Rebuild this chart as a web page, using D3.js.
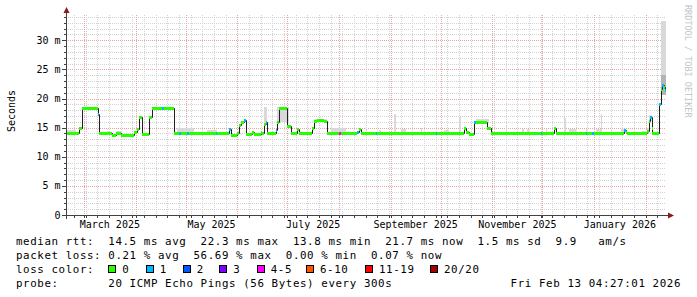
<!DOCTYPE html>
<html>
<head>
<meta charset="utf-8">
<script src="https://cdn.jsdelivr.net/npm/d3@7"></script>
<style>
body { margin: 0; background: #fff; }
svg { display: block; }
text { font-family: "DejaVu Sans Mono", monospace; white-space: pre; }
</style>
</head>
<body>
<div id="chart"></div>
<script>
// median rtt in ms, stepped: each value holds until the next date
var medianDates = ['2025-02-18T04', '2025-02-26', '2025-02-27T12', '2025-03-09T12', '2025-03-10', '2025-03-18', '2025-03-20', '2025-03-23',
    '2025-03-31', '2025-04-02', '2025-04-03', '2025-04-05', '2025-04-09', '2025-04-11', '2025-04-17', '2025-04-18',
    '2025-04-24', '2025-04-27', '2025-04-28', '2025-05-02', '2025-05-03', '2025-05-19', '2025-05-20', '2025-05-27',
    '2025-05-28', '2025-06-01', '2025-06-02', '2025-06-03', '2025-06-05', '2025-06-06', '2025-06-10', '2025-06-11',
    '2025-06-15', '2025-06-16', '2025-06-17', '2025-06-18', '2025-06-19', '2025-06-24', '2025-06-25', '2025-06-26',
    '2025-07-01', '2025-07-03', '2025-07-07', '2025-07-08', '2025-07-16', '2025-07-17', '2025-07-19', '2025-07-23',
    '2025-07-25', '2025-08-01', '2025-08-02', '2025-08-12', '2025-08-13', '2025-08-14', '2025-08-23', '2025-08-24',
    '2025-09-28', '2025-09-29', '2025-10-15', '2025-10-16', '2025-10-18', '2025-10-21', '2025-10-22', '2025-10-29',
    '2025-10-31', '2025-11-30', '2025-12-01', '2025-12-08', '2025-12-09', '2025-12-27', '2025-12-28', '2025-12-31',
    '2026-01-01', '2026-01-19', '2026-01-20', '2026-01-21', '2026-02-02', '2026-02-03', '2026-02-03T18', '2026-02-04T12',
    '2026-02-05', '2026-02-09', '2026-02-10', '2026-02-11', '2026-02-12', '2026-02-12T18'];
var medianValues = [14.0, 15.0, 18.3, 17.4, 14.0, 13.8, 14.0, 13.8,
    14.2, 14.8, 16.9, 13.9, 16.9, 18.3, 18.3, 18.3,
    14.0, 14.0, 14.0, 14.0, 14.0, 14.0, 14.0, 14.8,
    13.8, 14.0, 15.5, 16.0, 16.4, 13.9, 14.3, 13.9,
    14.3, 14.0, 15.7, 15.9, 14.0, 14.6, 15.9, 18.3,
    15.2, 14.0, 14.7, 14.0, 15.0, 16.1, 16.3, 16.2,
    14.0, 14.0, 14.0, 14.2, 14.8, 14.0, 14.0, 14.0,
    14.0, 14.0, 15.0, 14.2, 13.9, 16.0, 16.0, 15.0,
    14.0, 14.0, 14.0, 14.9, 14.0, 14.0, 14.0, 14.0,
    14.0, 14.6, 14.3, 14.0, 14.5, 16.1, 16.9, 14.9,
    14.0, 19.0, 21.7, 22.3, 21.9, 21.5];
// loss class index (0 = no loss, 1 = 1/20, 4 = 4-5/20 ...)
var medianLoss = [0, 0, 0, 1, 0, 0, 0, 0,
    0, 0, 0, 0, 0, 0, 1, 0,
    0, 1, 0, 1, 0, 1, 0, 1,
    0, 0, 0, 0, 1, 0, 0, 0,
    0, 0, 0, 1, 0, 1, 0, 0,
    0, 0, 0, 0, 0, 0, 0, 0,
    0, 4, 0, 1, 0, 0, 1, 0,
    1, 0, 0, 0, 0, 1, 0, 0,
    0, 1, 0, 0, 0, 1, 0, 1,
    0, 1, 0, 0, 0, 0, 1, 0,
    0, 1, 0, 1, 0, 1];

// upper edge of the smoke (spread of the 20 pings), 0 = none
var smokeDates = ['2025-02-19', '2025-02-24', '2025-03-15', '2025-03-16', '2025-03-20', '2025-03-24', '2025-04-26', '2025-05-06',
    '2025-05-14', '2025-05-20', '2025-05-28', '2025-05-29', '2025-06-01', '2025-06-02', '2025-06-17', '2025-06-19',
    '2025-06-25', '2025-07-02', '2025-07-17', '2025-07-25', '2025-07-27', '2025-08-05', '2025-08-17', '2025-08-18',
    '2025-08-25', '2025-08-26', '2025-09-03', '2025-09-04', '2025-09-07', '2025-09-10', '2025-09-19', '2025-09-20',
    '2025-10-03', '2025-10-06', '2025-10-12', '2025-10-13', '2025-10-22', '2025-10-30', '2025-10-31', '2025-11-01',
    '2025-11-09', '2025-11-10', '2025-11-19', '2025-11-20', '2025-11-22', '2025-11-23', '2025-12-03', '2025-12-04',
    '2025-12-14', '2025-12-15', '2025-12-17', '2025-12-21', '2025-12-27', '2025-12-28', '2026-01-02', '2026-01-05',
    '2026-01-06', '2026-01-11', '2026-01-12', '2026-01-17', '2026-01-20', '2026-01-30', '2026-02-02', '2026-02-03',
    '2026-02-05', '2026-02-10'];
var smokeTops = [14.6, 0, 14.5, 0, 14.4, 0, 14.9, 0,
    14.6, 0, 14.9, 0, 14.5, 0, 18.6, 0,
    18.5, 0, 16.5, 0, 14.9, 0, 14.9, 0,
    14.6, 0, 17.4, 0, 14.7, 0, 15.0, 0,
    14.6, 0, 16.9, 0, 16.5, 0, 15.0, 0,
    15.3, 0, 14.8, 0, 14.7, 0, 14.8, 0,
    16.6, 0, 14.7, 0, 14.8, 0, 14.8, 17.3,
    0, 14.7, 0, 14.8, 0, 14.5, 15.0, 17.2,
    0, 33.3];
// denser core of the smoke during the last days
var coreDates = ['2026-02-10'];
var coreLow = [20.6];
var coreHigh = [24.0];

var yTicks = [0, 5, 10, 15, 20, 25, 30];
var lossLabels = ['0', '1', '2', '3', '4-5', '6-10', '11-19', '20/20'];
var rttStats = ['14.5 ms avg', '22.3 ms max', '13.8 ms min', '21.7 ms now', '1.5 ms sd', '9.9 ', 'am/s'];
var lossStats = ['0.21 % avg', '56.69 % max', '0.00 % min', '0.07 % now'];
var probeText = '20 ICMP Echo Pings (56 Bytes) every 300s';
var stampText = 'Fri Feb 13 04:27:01 2026';

var lossColors = ['#26ff00', '#00b8ff', '#0059ff', '#7e00ff', '#ff00ff', '#ff5500', '#ff0000', '#a10000'];

function parseDate(s) {
    return new Date(s.length === 10 ? s + 'T00:00:00Z' : s + ':00:00Z');
}

window.onload = function () {
    var width = 697, height = 297;
    var left = 66, right = 666, top = 15, bottom = 215;
    var start = new Date(Date.UTC(2025, 1, 18, 4, 27, 1));
    var end = new Date(Date.UTC(2026, 1, 13, 4, 27, 1));

    var x = d3.scaleUtc().domain([start, end]).range([left, right]);
    var y = d3.scaleLinear().domain([0, 200 / 5.823]).range([bottom, top]);

    var svg = d3.select('#chart')
        .append('svg')
        .attr('width', width)
        .attr('height', height);

    svg.append('rect').attr('width', width).attr('height', height).attr('fill', '#fff');

    svg.append('defs').append('clipPath').attr('id', 'plot')
        .append('rect').attr('x', left).attr('y', top - 5).attr('width', right - left).attr('height', bottom - top + 5);

    var crisp = function (v) { return Math.round(v) + 0.5; };

    // minor grid
    var grid = svg.append('g').attr('shape-rendering', 'crispEdges');
    var minorY = d3.range(1, 35).filter(function (v) { return v % 5 !== 0; });
    grid.selectAll('.hminor').data(minorY).enter()
        .append('line')
        .attr('x1', left).attr('x2', right)
        .attr('y1', function (d) { return crisp(y(d)); })
        .attr('y2', function (d) { return crisp(y(d)); })
        .attr('stroke', '#d2d2d2')
        .attr('stroke-dasharray', '1,1');
    var weeks = d3.utcSunday.range(start, end);
    grid.selectAll('.vminor').data(weeks).enter()
        .append('line')
        .attr('x1', function (d) { return crisp(x(d)); })
        .attr('x2', function (d) { return crisp(x(d)); })
        .attr('y1', top).attr('y2', bottom)
        .attr('stroke', '#d2d2d2')
        .attr('stroke-dasharray', '1,1');

    // major grid
    grid.selectAll('.hmajor').data(yTicks.slice(1)).enter()
        .append('line')
        .attr('x1', left).attr('x2', right)
        .attr('y1', function (d) { return crisp(y(d)); })
        .attr('y2', function (d) { return crisp(y(d)); })
        .attr('stroke', '#eaa4a4')
        .attr('stroke-dasharray', '1,1');
    var months = d3.utcMonth.range(start, end);
    grid.selectAll('.vmajor').data(months).enter()
        .append('line')
        .attr('x1', function (d) { return crisp(x(d)); })
        .attr('x2', function (d) { return crisp(x(d)); })
        .attr('y1', top).attr('y2', bottom)
        .attr('stroke', '#eaa4a4')
        .attr('stroke-dasharray', '1,1');

    var medDates = medianDates.map(parseDate);
    var bis = d3.bisector(function (d) { return d; }).right;
    function medianAt(t) {
        var i = Math.max(0, bis(medDates, t) - 1);
        return medianValues[i];
    }

    var plot = svg.append('g').attr('clip-path', 'url(#plot)');

    // smoke
    var smk = smokeDates.map(parseDate);
    var smokeRows = smk.map(function (d, i) {
        return { t0: d, t1: i < smk.length - 1 ? smk[i + 1] : end, top: smokeTops[i] };
    }).filter(function (d) { return d.top > 0; });
    plot.selectAll('.smoke').data(smokeRows).enter()
        .append('rect')
        .attr('shape-rendering', 'crispEdges')
        .attr('x', function (d) { return x(d.t0); })
        .attr('width', function (d) { return x(d.t1) - x(d.t0); })
        .attr('y', function (d) { return y(d.top); })
        .attr('height', function (d) { return y(medianAt(d.t0)) - y(d.top); })
        .attr('fill', '#d9d9d9');
    plot.selectAll('.core').data(coreDates).enter()
        .append('rect')
        .attr('shape-rendering', 'crispEdges')
        .attr('x', function (d) { return x(parseDate(d)); })
        .attr('width', function (d) { return x(end) - x(parseDate(d)); })
        .attr('y', function (d, i) { return y(coreHigh[i]); })
        .attr('height', function (d, i) { return y(coreLow[i]) - y(coreHigh[i]); })
        .attr('fill', '#b4b4b4');

    // median line
    var pts = medDates.map(function (d, i) { return [d, medianValues[i]]; });
    pts.push([end, medianValues[medianValues.length - 1]]);
    var line = d3.line()
        .x(function (d) { return Math.round(x(d[0])) + 0.5; })
        .y(function (d) { return Math.round(y(d[1])) + 0.5; })
        .curve(d3.curveStepAfter);
    plot.append('path')
        .attr('d', line(pts))
        .attr('fill', 'none')
        .attr('stroke', '#202020')
        .attr('stroke-width', 1);

    // loss coloured blocks on the median
    var segs = medDates.map(function (d, i) {
        return { t0: d, t1: i < medDates.length - 1 ? medDates[i + 1] : end, v: medianValues[i], loss: medianLoss[i] };
    });
    plot.selectAll('.seg').data(segs).enter()
        .append('rect')
        .attr('shape-rendering', 'crispEdges')
        .attr('x', function (d) { return Math.round(x(d.t0)); })
        .attr('width', function (d) { return Math.max(1, Math.round(x(d.t1)) - Math.round(x(d.t0))); })
        .attr('y', function (d) { return Math.round(y(d.v)) - 1; })
        .attr('height', 3)
        .attr('fill', function (d) { return lossColors[d.loss]; });

    // axes
    var ax = svg.append('g').attr('shape-rendering', 'crispEdges');
    ax.selectAll('.ytick').data(d3.range(0, 35)).enter()
        .append('line')
        .attr('x1', function (d) { return d % 5 === 0 ? left - 4 : left - 2; })
        .attr('x2', left)
        .attr('y1', function (d) { return crisp(y(d)); })
        .attr('y2', function (d) { return crisp(y(d)); })
        .attr('stroke', '#404040');
    ax.selectAll('.xtick').data(weeks.concat(months)).enter()
        .append('line')
        .attr('x1', function (d) { return crisp(x(d)); })
        .attr('x2', function (d) { return crisp(x(d)); })
        .attr('y1', bottom)
        .attr('y2', bottom + 3)
        .attr('stroke', '#404040');
    ax.append('line')
        .attr('x1', left + 0.5).attr('x2', left + 0.5)
        .attr('y1', bottom + 4).attr('y2', top - 3)
        .attr('stroke', '#404040');
    ax.append('line')
        .attr('x1', left - 4).attr('x2', right + 3)
        .attr('y1', bottom + 0.5).attr('y2', bottom + 0.5)
        .attr('stroke', '#404040');
    svg.append('path')
        .attr('d', 'M' + (left - 2.5) + ',' + (top - 2) + 'L' + (left + 3.5) + ',' + (top - 2) + 'L' + (left + 0.5) + ',' + (top - 8) + 'Z')
        .attr('fill', '#8b1a1a');
    svg.append('path')
        .attr('d', 'M' + (right + 2) + ',' + (bottom - 2.5) + 'L' + (right + 2) + ',' + (bottom + 3.5) + 'L' + (right + 8) + ',' + (bottom + 0.5) + 'Z')
        .attr('fill', '#8b1a1a');

    // y labels
    svg.selectAll('.ylab').data(yTicks).enter()
        .append('text')
        .attr('x', 60.5)
        .attr('y', function (d) { return y(d) + 3.5; })
        .attr('text-anchor', 'end')
        .attr('font-size', '10px')
        .attr('fill', '#000')
        .text(function (d) { return d === 0 ? '0' : d + ' m'; });

    // x labels, centred in the month
    var labelMonths = d3.utcMonth.every(2).range(start, end);
    svg.selectAll('.xlab').data(labelMonths).enter()
        .append('text')
        .attr('x', function (d) { return (x(d) + x(d3.utcMonth.offset(d, 1))) / 2; })
        .attr('y', 228)
        .attr('text-anchor', 'middle')
        .attr('font-size', '10px')
        .attr('fill', '#000')
        .text(d3.utcFormat('%B %Y'));

    svg.append('text')
        .attr('transform', 'translate(14.5,111) rotate(-90)')
        .attr('text-anchor', 'middle')
        .attr('font-size', '10px')
        .attr('fill', '#000')
        .text('Seconds');

    svg.append('text')
        .attr('transform', 'translate(685,5) rotate(90)')
        .attr('font-size', '8.5px')
        .attr('fill', '#c4c4c4')
        .text('RRDTOOL / TOBI OETIKER');

    // legend, monospaced rows
    var lg = svg.append('g')
        .attr('font-size', '10.8px')
        .attr('letter-spacing', '0.6px')
        .attr('fill', '#000');
    var row = [245, 259, 273, 287];
    lg.append('text').attr('x', 16).attr('y', row[0])
        .text('median rtt:  ' + rttStats.join('  '));
    lg.append('text').attr('x', 16).attr('y', row[1])
        .text('packet loss: ' + lossStats.join('  '));
    lg.append('text').attr('x', 16).attr('y', row[2]).text('loss color:');
    var boxX = [108.3, 145.7, 182.7, 219.3, 256.7, 306, 365, 430];
    lg.selectAll('.box').data(lossLabels).enter()
        .append('rect')
        .attr('shape-rendering', 'crispEdges')
        .attr('x', function (d, i) { return Math.round(boxX[i]) + 0.5; })
        .attr('y', row[2] - 7.5)
        .attr('width', 7)
        .attr('height', 7)
        .attr('fill', function (d, i) { return lossColors[i]; })
        .attr('stroke', '#000');
    lg.selectAll('.boxlab').data(lossLabels).enter()
        .append('text')
        .attr('x', function (d, i) { return boxX[i] + 14; })
        .attr('y', row[2])
        .text(function (d) { return d; });
    lg.append('text').attr('x', 16).attr('y', row[3]).text('probe:       ' + probeText);
    lg.append('text').attr('x', 681).attr('y', row[3]).attr('text-anchor', 'end').text(stampText);
};
</script>
</body>
</html>
